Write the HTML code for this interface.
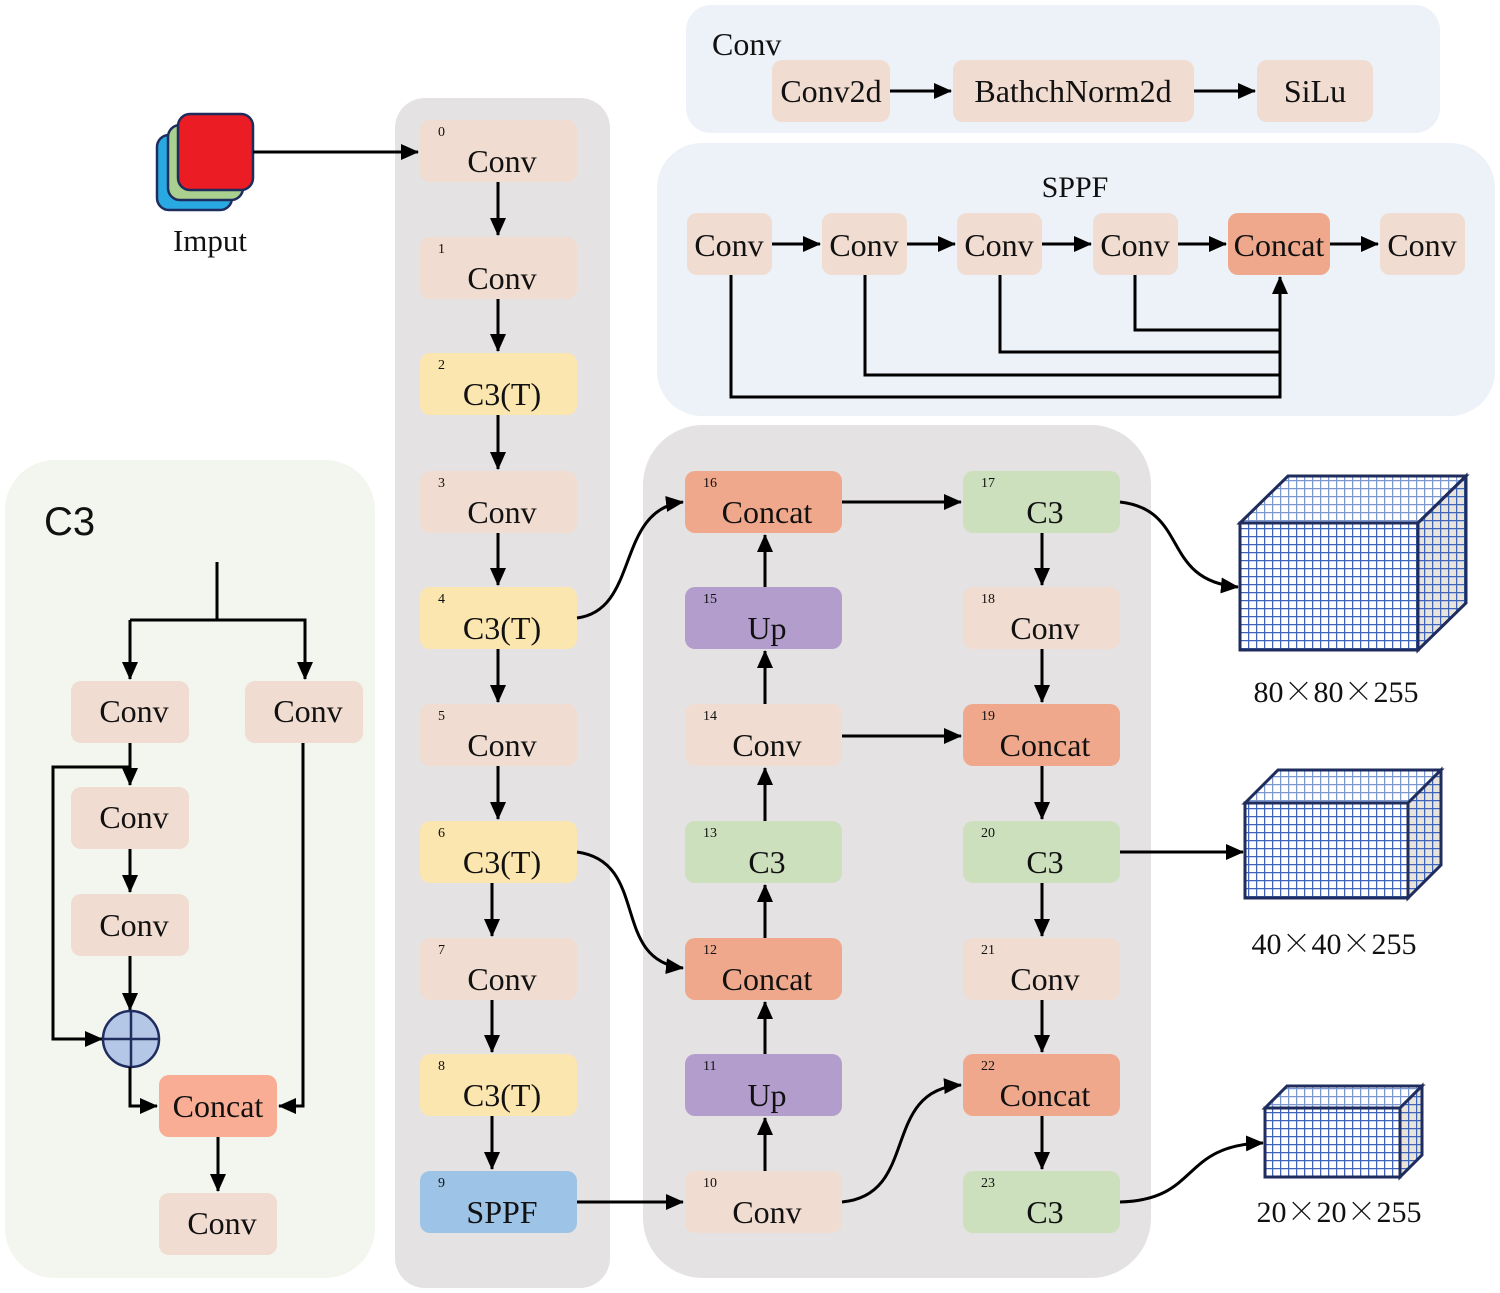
<!DOCTYPE html>
<html><head><meta charset="utf-8"><style>
html,body{margin:0;padding:0;background:#fff}
svg{display:block}
text{font-family:"Liberation Serif",serif;fill:#111}
.l{font-size:32px;text-anchor:middle}
.i{font-size:14px}
.x{font-family:"Noto Serif CJK SC","Noto Sans CJK SC",serif}
.ln{stroke:#000;stroke-width:3;fill:none}
</style></head><body>
<svg width="1500" height="1293" viewBox="0 0 1500 1293" xmlns="http://www.w3.org/2000/svg">
<defs>
<marker id="b" markerWidth="18" markerHeight="16" refX="17" refY="8" orient="auto" markerUnits="userSpaceOnUse"><path d="M0,0 L18,8 L0,16 z" fill="#000"/></marker>
<pattern id="g" width="8" height="8" patternUnits="userSpaceOnUse"><rect width="8" height="8" fill="#fff"/><path d="M0,0H8M0,0V8" stroke="#3d64b8" stroke-width="2.5"/></pattern>
<pattern id="g2" width="8" height="8" patternUnits="userSpaceOnUse"><rect width="8" height="8" fill="#e8e4dc"/><path d="M0,0H8M0,0V8" stroke="#3d64b8" stroke-width="2.5"/></pattern>
<pattern id="g3" width="8" height="8" patternUnits="userSpaceOnUse"><rect width="8" height="8" fill="#fff"/><path d="M0,0H8M0,0V8" stroke="#7b97d0" stroke-width="2.5"/></pattern>
</defs>

<rect x="686" y="5" width="754" height="128" rx="25" fill="#edf1f8"/>
<rect x="657" y="143" width="838" height="273" rx="45" fill="#edf1f8"/>
<rect x="395" y="98" width="215" height="1190" rx="30" fill="#e4e2e2"/>
<rect x="643" y="425" width="508" height="853" rx="60" fill="#e4e2e2"/>
<rect x="5" y="460" width="370" height="818" rx="50" fill="#f2f6ee"/>

<text x="712" y="55" style="font-size:32px">Conv</text>
<rect x="772" y="60" width="118" height="62" rx="10" fill="#f0dcd0"/><text class="l" x="831" y="102">Conv2d</text>
<rect x="953" y="60" width="241" height="62" rx="10" fill="#f0dcd0"/><text class="l" x="1073" y="102">BathchNorm2d</text>
<rect x="1257" y="60" width="116" height="62" rx="10" fill="#f0dcd0"/><text class="l" x="1315" y="102">SiLu</text>
<path class="ln" d="M890,91H951" marker-end="url(#b)"/>
<path class="ln" d="M1194,91H1255" marker-end="url(#b)"/>

<text class="l" x="1075" y="197" style="font-size:30px">SPPF</text>
<rect x="687" y="213" width="85" height="62" rx="10" fill="#f0dcd0"/><text class="l" x="729" y="256">Conv</text>
<rect x="822" y="213" width="85" height="62" rx="10" fill="#f0dcd0"/><text class="l" x="864" y="256">Conv</text>
<rect x="957" y="213" width="85" height="62" rx="10" fill="#f0dcd0"/><text class="l" x="999" y="256">Conv</text>
<rect x="1093" y="213" width="85" height="62" rx="10" fill="#f0dcd0"/><text class="l" x="1135" y="256">Conv</text>
<rect x="1228" y="213" width="102" height="62" rx="10" fill="#f0a88c"/><text class="l" x="1279" y="256">Concat</text>
<rect x="1380" y="213" width="85" height="62" rx="10" fill="#f0dcd0"/><text class="l" x="1422" y="256">Conv</text>
<path class="ln" d="M772,244H820" marker-end="url(#b)"/>
<path class="ln" d="M907,244H955" marker-end="url(#b)"/>
<path class="ln" d="M1042,244H1091" marker-end="url(#b)"/>
<path class="ln" d="M1178,244H1226" marker-end="url(#b)"/>
<path class="ln" d="M1330,244H1378" marker-end="url(#b)"/>
<path class="ln" d="M731,275V397H1280V277" marker-end="url(#b)"/>
<path class="ln" d="M865,275V375H1280"/>
<path class="ln" d="M1000,275V352H1280"/>
<path class="ln" d="M1135,275V330H1280"/>

<rect x="157" y="135" width="75" height="75" rx="12" fill="#29a9e1" stroke="#1f2d5e" stroke-width="2.5"/>
<rect x="168" y="125" width="75" height="75" rx="12" fill="#a9d08e" stroke="#1f2d5e" stroke-width="2.5"/>
<rect x="178" y="114" width="75" height="76" rx="12" fill="#ec1c24" stroke="#1f2d5e" stroke-width="2.5"/>
<text class="l" x="210" y="251" style="font-size:31px">Imput</text>
<path class="ln" d="M253,152H418" marker-end="url(#b)"/>

<g>
<rect x="420" y="120" width="157" height="62" rx="10" fill="#f0dcd0"/><text class="i" x="438" y="136">0</text><text class="l" x="502" y="172">Conv</text>
<rect x="420" y="237" width="157" height="62" rx="10" fill="#f0dcd0"/><text class="i" x="438" y="253">1</text><text class="l" x="502" y="289">Conv</text>
<rect x="420" y="353" width="157" height="62" rx="10" fill="#fce6b0"/><text class="i" x="438" y="369">2</text><text class="l" x="502" y="405">C3(T)</text>
<rect x="420" y="471" width="157" height="62" rx="10" fill="#f0dcd0"/><text class="i" x="438" y="487">3</text><text class="l" x="502" y="523">Conv</text>
<rect x="420" y="587" width="157" height="62" rx="10" fill="#fce6b0"/><text class="i" x="438" y="603">4</text><text class="l" x="502" y="639">C3(T)</text>
<rect x="420" y="704" width="157" height="62" rx="10" fill="#f0dcd0"/><text class="i" x="438" y="720">5</text><text class="l" x="502" y="756">Conv</text>
<rect x="420" y="821" width="157" height="62" rx="10" fill="#fce6b0"/><text class="i" x="438" y="837">6</text><text class="l" x="502" y="873">C3(T)</text>
<rect x="420" y="938" width="157" height="62" rx="10" fill="#f0dcd0"/><text class="i" x="438" y="954">7</text><text class="l" x="502" y="990">Conv</text>
<rect x="420" y="1054" width="157" height="62" rx="10" fill="#fce6b0"/><text class="i" x="438" y="1070">8</text><text class="l" x="502" y="1106">C3(T)</text>
<rect x="420" y="1171" width="157" height="62" rx="10" fill="#9dc3e6"/><text class="i" x="438" y="1187">9</text><text class="l" x="502" y="1223">SPPF</text>
</g>
<path class="ln" d="M498,182V235" marker-end="url(#b)"/>
<path class="ln" d="M498,299V351" marker-end="url(#b)"/>
<path class="ln" d="M498,415V469" marker-end="url(#b)"/>
<path class="ln" d="M498,533V585" marker-end="url(#b)"/>
<path class="ln" d="M498,649V702" marker-end="url(#b)"/>
<path class="ln" d="M498,766V819" marker-end="url(#b)"/>
<path class="ln" d="M492,883V936" marker-end="url(#b)"/>
<path class="ln" d="M492,1000V1052" marker-end="url(#b)"/>
<path class="ln" d="M492,1116V1169" marker-end="url(#b)"/>

<rect x="685" y="471" width="157" height="62" rx="10" fill="#f0a88c"/><text class="i" x="703" y="487">16</text><text class="l" x="767" y="523">Concat</text>
<rect x="685" y="587" width="157" height="62" rx="10" fill="#b39dcc"/><text class="i" x="703" y="603">15</text><text class="l" x="767" y="639">Up</text>
<rect x="685" y="704" width="157" height="62" rx="10" fill="#f0dcd0"/><text class="i" x="703" y="720">14</text><text class="l" x="767" y="756">Conv</text>
<rect x="685" y="821" width="157" height="62" rx="10" fill="#cce0bd"/><text class="i" x="703" y="837">13</text><text class="l" x="767" y="873">C3</text>
<rect x="685" y="938" width="157" height="62" rx="10" fill="#f0a88c"/><text class="i" x="703" y="954">12</text><text class="l" x="767" y="990">Concat</text>
<rect x="685" y="1054" width="157" height="62" rx="10" fill="#b39dcc"/><text class="i" x="703" y="1070">11</text><text class="l" x="767" y="1106">Up</text>
<rect x="685" y="1171" width="157" height="62" rx="10" fill="#f0dcd0"/><text class="i" x="703" y="1187">10</text><text class="l" x="767" y="1223">Conv</text>
<rect x="963" y="471" width="157" height="62" rx="10" fill="#cce0bd"/><text class="i" x="981" y="487">17</text><text class="l" x="1045" y="523">C3</text>
<rect x="963" y="587" width="157" height="62" rx="10" fill="#f0dcd0"/><text class="i" x="981" y="603">18</text><text class="l" x="1045" y="639">Conv</text>
<rect x="963" y="704" width="157" height="62" rx="10" fill="#f0a88c"/><text class="i" x="981" y="720">19</text><text class="l" x="1045" y="756">Concat</text>
<rect x="963" y="821" width="157" height="62" rx="10" fill="#cce0bd"/><text class="i" x="981" y="837">20</text><text class="l" x="1045" y="873">C3</text>
<rect x="963" y="938" width="157" height="62" rx="10" fill="#f0dcd0"/><text class="i" x="981" y="954">21</text><text class="l" x="1045" y="990">Conv</text>
<rect x="963" y="1054" width="157" height="62" rx="10" fill="#f0a88c"/><text class="i" x="981" y="1070">22</text><text class="l" x="1045" y="1106">Concat</text>
<rect x="963" y="1171" width="157" height="62" rx="10" fill="#cce0bd"/><text class="i" x="981" y="1187">23</text><text class="l" x="1045" y="1223">C3</text>

<path class="ln" d="M765,1171V1118" marker-end="url(#b)"/>
<path class="ln" d="M765,1054V1002" marker-end="url(#b)"/>
<path class="ln" d="M765,938V885" marker-end="url(#b)"/>
<path class="ln" d="M765,821V768" marker-end="url(#b)"/>
<path class="ln" d="M765,704V651" marker-end="url(#b)"/>
<path class="ln" d="M765,587V535" marker-end="url(#b)"/>
<path class="ln" d="M1042,533V585" marker-end="url(#b)"/>
<path class="ln" d="M1042,649V702" marker-end="url(#b)"/>
<path class="ln" d="M1042,766V819" marker-end="url(#b)"/>
<path class="ln" d="M1042,883V936" marker-end="url(#b)"/>
<path class="ln" d="M1042,1000V1052" marker-end="url(#b)"/>
<path class="ln" d="M1042,1116V1169" marker-end="url(#b)"/>
<path class="ln" d="M842,502H961" marker-end="url(#b)"/>
<path class="ln" d="M842,736H961" marker-end="url(#b)"/>
<path class="ln" d="M577,1202H683" marker-end="url(#b)"/>
<path class="ln" d="M577,618C640,610 615,510 683,502" marker-end="url(#b)"/>
<path class="ln" d="M577,852C650,862 610,960 683,968" marker-end="url(#b)"/>
<path class="ln" d="M842,1202C920,1195 880,1090 961,1085" marker-end="url(#b)"/>
<path class="ln" d="M1120,502C1190,510 1160,580 1238,587" marker-end="url(#b)"/>
<path class="ln" d="M1120,852H1243" marker-end="url(#b)"/>
<path class="ln" d="M1120,1202C1200,1200 1180,1145 1263,1143" marker-end="url(#b)"/>

<g stroke="#1f2d5e" stroke-width="3">
<path d="M1240,523L1288,476H1466L1418,523Z" fill="url(#g3)"/>
<path d="M1418,523L1466,476V603L1418,650Z" fill="url(#g2)"/>
<rect x="1240" y="523" width="178" height="127" fill="url(#g)"/>
<path d="M1245,803L1278,770H1441L1408,803Z" fill="url(#g3)"/>
<path d="M1408,803L1441,770V865L1408,898Z" fill="url(#g2)"/>
<rect x="1245" y="803" width="163" height="95" fill="url(#g)"/>
<path d="M1265,1108L1287,1086H1422L1400,1108Z" fill="url(#g3)"/>
<path d="M1400,1108L1422,1086V1155L1400,1177Z" fill="url(#g2)"/>
<rect x="1265" y="1108" width="135" height="69" fill="url(#g)"/>
</g>
<text class="l" x="1336" y="702" style="font-size:30px">80<tspan class="x">×</tspan>80<tspan class="x">×</tspan>255</text>
<text class="l" x="1334" y="954" style="font-size:30px">40<tspan class="x">×</tspan>40<tspan class="x">×</tspan>255</text>
<text class="l" x="1339" y="1222" style="font-size:30px">20<tspan class="x">×</tspan>20<tspan class="x">×</tspan>255</text>

<text x="44" y="535" style="font-family:'Liberation Sans',sans-serif;font-size:40px">C3</text>
<rect x="71" y="681" width="118" height="62" rx="10" fill="#f0dcd0"/><text class="l" x="134" y="722">Conv</text>
<rect x="245" y="681" width="118" height="62" rx="10" fill="#f0dcd0"/><text class="l" x="308" y="722">Conv</text>
<rect x="71" y="787" width="118" height="62" rx="10" fill="#f0dcd0"/><text class="l" x="134" y="828">Conv</text>
<rect x="71" y="894" width="118" height="62" rx="10" fill="#f0dcd0"/><text class="l" x="134" y="936">Conv</text>
<rect x="159" y="1075" width="118" height="62" rx="10" fill="#f8ad94"/><text class="l" x="218" y="1117">Concat</text>
<rect x="159" y="1193" width="118" height="62" rx="10" fill="#f0dcd0"/><text class="l" x="222" y="1234">Conv</text>
<path class="ln" d="M217,562V620"/>
<path class="ln" d="M130,620H305V679" marker-end="url(#b)"/>
<path class="ln" d="M130,620V679" marker-end="url(#b)"/>
<path class="ln" d="M130,743V785" marker-end="url(#b)"/>
<path class="ln" d="M130,767H53V1039H102" marker-end="url(#b)"/>
<path class="ln" d="M130,849V892" marker-end="url(#b)"/>
<path class="ln" d="M130,956V1010" marker-end="url(#b)"/>
<circle cx="131" cy="1039" r="28" fill="#b4c7e7" stroke="#1f2d5e" stroke-width="2.5"/>
<path d="M103,1039H159M131,1011V1067" stroke="#1f2d5e" stroke-width="2.5"/>
<path class="ln" d="M130,1067V1106H157" marker-end="url(#b)"/>
<path class="ln" d="M303,743V1106H279" marker-end="url(#b)"/>
<path class="ln" d="M218,1137V1191" marker-end="url(#b)"/>
</svg>
</body></html>
